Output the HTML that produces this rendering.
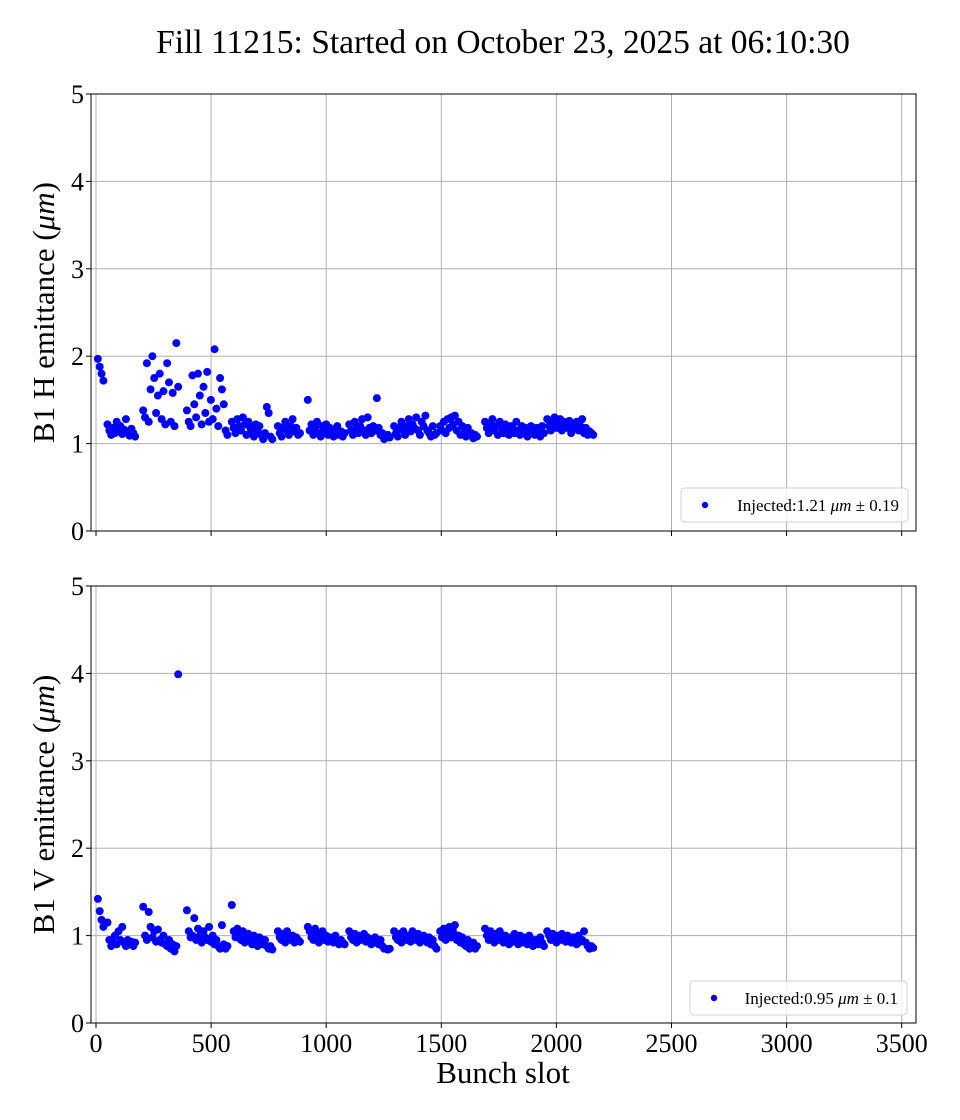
<!DOCTYPE html>
<html><head><meta charset="utf-8"><style>
body{margin:0;background:#fff}
svg{display:block;font-family:"Liberation Serif","DejaVu Serif",serif}
</style></head><body>
<svg id="chart" width="960" height="1120" viewBox="0 0 960 1120" xmlns="http://www.w3.org/2000/svg">
<text x="503" y="53" font-size="33.5" text-anchor="middle">Fill 11215: Started on October 23, 2025 at 06:10:30</text>
</svg>
<script>
const trainStarts = [8,50,205,395,590,790,920,1100,1295,1495,1690,1960];
const bunchSpacing = 8;
const hVals = [
[1.97,1.88,1.80,1.72],
[1.22,1.15,1.10,1.18,1.12,1.25,1.14,1.20,1.11,1.16,1.28,1.13,1.09,1.17,1.12,1.08],
[1.38,1.30,1.92,1.25,1.62,2.00,1.75,1.35,1.55,1.80,1.28,1.60,1.22,1.92,1.70,1.25,1.58,1.20,2.15,1.65],
[1.38,1.25,1.20,1.78,1.45,1.30,1.80,1.55,1.22,1.65,1.35,1.82,1.25,1.50,1.28,2.08,1.40,1.20,1.75,1.62,1.45,1.15,1.10],
[1.25,1.18,1.12,1.28,1.20,1.15,1.30,1.22,1.10,1.25,1.18,1.12,1.08,1.22,1.15,1.20,1.10,1.05,1.12,1.42,1.35,1.08,1.05],
[1.20,1.12,1.08,1.18,1.25,1.15,1.10,1.20,1.28,1.14,1.18,1.10,1.12],
[1.50,1.15,1.22,1.10,1.18,1.25,1.12,1.08,1.20,1.15,1.22,1.10,1.18,1.12,1.08,1.15,1.20,1.10,1.14,1.08,1.12],
[1.22,1.15,1.10,1.25,1.18,1.12,1.20,1.28,1.15,1.10,1.30,1.18,1.12,1.20,1.15,1.52,1.18,1.10,1.12,1.05,1.08,1.10,1.07],
[1.20,1.12,1.08,1.18,1.25,1.15,1.10,1.20,1.28,1.14,1.22,1.18,1.30,1.15,1.10,1.25,1.20,1.32,1.15,1.12,1.08,1.20,1.10,1.12],
[1.20,1.15,1.25,1.12,1.28,1.18,1.30,1.22,1.32,1.15,1.25,1.10,1.20,1.12,1.08,1.18,1.10,1.12,1.06,1.10,1.08],
[1.25,1.18,1.12,1.22,1.28,1.15,1.20,1.10,1.25,1.18,1.12,1.22,1.15,1.10,1.20,1.18,1.12,1.25,1.15,1.10,1.20,1.12,1.18,1.08,1.15,1.20,1.12,1.10,1.18,1.14,1.08,1.20,1.12],
[1.28,1.20,1.15,1.25,1.30,1.18,1.22,1.28,1.15,1.25,1.20,1.18,1.26,1.12,1.22,1.18,1.25,1.15,1.20,1.28,1.12,1.18,1.10,1.14,1.12,1.10]
];
const vVals = [
[1.42,1.28,1.18,1.10],
[1.15,0.95,0.88,0.92,1.00,0.90,1.05,0.95,1.10,0.92,0.88,0.95,0.90,0.93,0.88,0.92],
[1.33,1.00,0.95,1.27,1.10,0.98,1.05,0.93,1.07,0.95,0.92,1.00,0.90,0.88,0.95,0.85,0.90,0.82,0.88,3.99],
[1.29,1.05,0.98,1.00,1.20,0.95,1.08,1.00,0.92,1.05,0.98,0.95,1.10,0.93,1.00,0.90,0.95,0.88,0.85,1.12,0.90,0.85,0.88],
[1.35,1.05,0.98,1.08,1.00,0.95,1.05,0.92,0.98,1.02,0.95,0.90,1.00,0.93,0.88,0.98,0.92,0.90,0.95,0.88,0.85,0.88,0.84],
[1.05,0.98,0.95,1.02,0.92,1.05,0.98,0.95,1.00,0.92,0.98,0.95,0.93],
[1.10,1.05,0.98,0.95,1.08,1.02,0.92,0.98,1.05,0.95,1.00,0.93,0.98,0.95,0.92,1.00,0.95,0.90,0.95,0.92,0.90],
[1.05,0.98,0.95,1.02,0.92,1.00,0.95,0.98,1.02,0.93,0.98,0.95,0.90,0.95,0.98,0.92,0.90,0.95,0.88,0.85,0.85,0.84,0.85],
[1.05,0.98,0.95,1.02,0.92,1.05,0.98,0.95,1.00,0.93,1.05,0.98,0.95,1.02,0.92,0.98,1.00,0.95,0.92,0.98,0.90,0.95,0.88,0.85],
[1.05,0.98,1.08,0.95,1.02,1.10,0.98,1.05,1.12,0.95,1.00,0.92,0.98,0.90,0.88,0.95,0.85,0.88,0.92,0.85,0.88],
[1.08,1.00,0.95,1.05,0.98,0.92,1.02,0.95,1.05,0.98,0.92,1.00,0.95,0.90,0.98,0.93,1.02,0.95,0.90,1.00,0.92,0.98,0.95,0.90,1.00,0.93,0.88,0.95,0.92,0.90,0.98,0.92,0.88],
[1.05,1.00,0.95,1.02,0.98,0.92,1.00,0.95,1.02,0.98,0.93,1.00,0.95,0.92,0.98,0.95,0.90,1.00,0.93,0.95,1.05,0.92,0.88,0.85,0.88,0.86]
];
const xTicks = [0,500,1000,1500,2000,2500,3000,3500];
const yTicks = [0,1,2,3,4,5];
const legendTexts = ["Injected:1.21 ", "Injected:0.95 "];
const legendStd = ["0.19","0.1"];

const NS="http://www.w3.org/2000/svg";
const svg=document.getElementById('chart');
function mk(tag,attrs,parent){const e=document.createElementNS(NS,tag);for(const k in attrs)e.setAttribute(k,attrs[k]);(parent||svg).appendChild(e);return e;}
const L=91,R=916;
const xs=v=>96+v*0.2302;

function panel(top,bottom,vals,label,legIdx,showX,legBox,name){
  const g=mk('g',{});
  
  
  const ys=v=>bottom-(v/5)*(bottom-top);
  xTicks.forEach(t=>{
    const l=mk('line',{x1:xs(t),x2:xs(t),y1:top,y2:bottom,stroke:'#b0b0b0','stroke-width':1},g);
    
    
    mk('line',{x1:xs(t),x2:xs(t),y1:bottom,y2:bottom+5,stroke:'#000','stroke-width':1},g);
    if(showX){
      const tx=mk('text',{x:xs(t),y:bottom+29,'font-size':26,'text-anchor':'middle'},g);
      tx.textContent=t;
      
      
    }
  });
  yTicks.forEach(t=>{
    const l=mk('line',{x1:L,x2:R,y1:ys(t),y2:ys(t),stroke:'#b0b0b0','stroke-width':1},g);
    
    
    mk('line',{x1:L-5,x2:L,y1:ys(t),y2:ys(t),stroke:'#000','stroke-width':1},g);
    const tx=mk('text',{x:L-7,y:ys(t)+9,'font-size':26,'text-anchor':'end'},g);
    tx.textContent=t;
    
    
  });
  vals.forEach((arr,ti)=>arr.forEach((v,i)=>{
    const c=mk('circle',{cx:xs(trainStarts[ti]+i*bunchSpacing),cy:ys(v),r:4,fill:'#0000ff'},g);
    
    
  }));
  const fr=mk('rect',{x:L,y:top,width:R-L,height:bottom-top,fill:'none',stroke:'#000','stroke-width':1},g);
  
  
  const yl=mk('text',{x:0,y:0,'font-size':31,'text-anchor':'middle',transform:`translate(54,${(top+bottom)/2}) rotate(-90)`},g);
  yl.innerHTML=label;
  
  
  const lg=mk('g',{},g);
  
  
  mk('rect',{x:legBox[0],y:legBox[1],width:legBox[2],height:34,rx:4,fill:'#fff','fill-opacity':0.8,stroke:'#d0d0d0'},lg);
  mk('circle',{cx:legBox[0]+24,cy:legBox[1]+17,r:3.2,fill:'#0000ff'},lg);
  const lt=mk('text',{x:legBox[2]+legBox[0]-9,y:legBox[1]+23,'font-size':17,'text-anchor':'end'},lg);
  lt.innerHTML=legendTexts[legIdx]+'<tspan font-style="italic">μm</tspan> ± '+legendStd[legIdx];
  
  
}
panel(94,531,hVals,'B1 H emittance (<tspan font-style="italic">μm</tspan>)',0,false,[681,488,227],'h-emittance-panel');
panel(586,1023,vVals,'B1 V emittance (<tspan font-style="italic">μm</tspan>)',1,true,[690,981,217],'v-emittance-panel');
const xt=mk('text',{x:503,y:1083,'font-size':31,'text-anchor':'middle'});
xt.textContent='Bunch slot';


</script>
</body></html>
